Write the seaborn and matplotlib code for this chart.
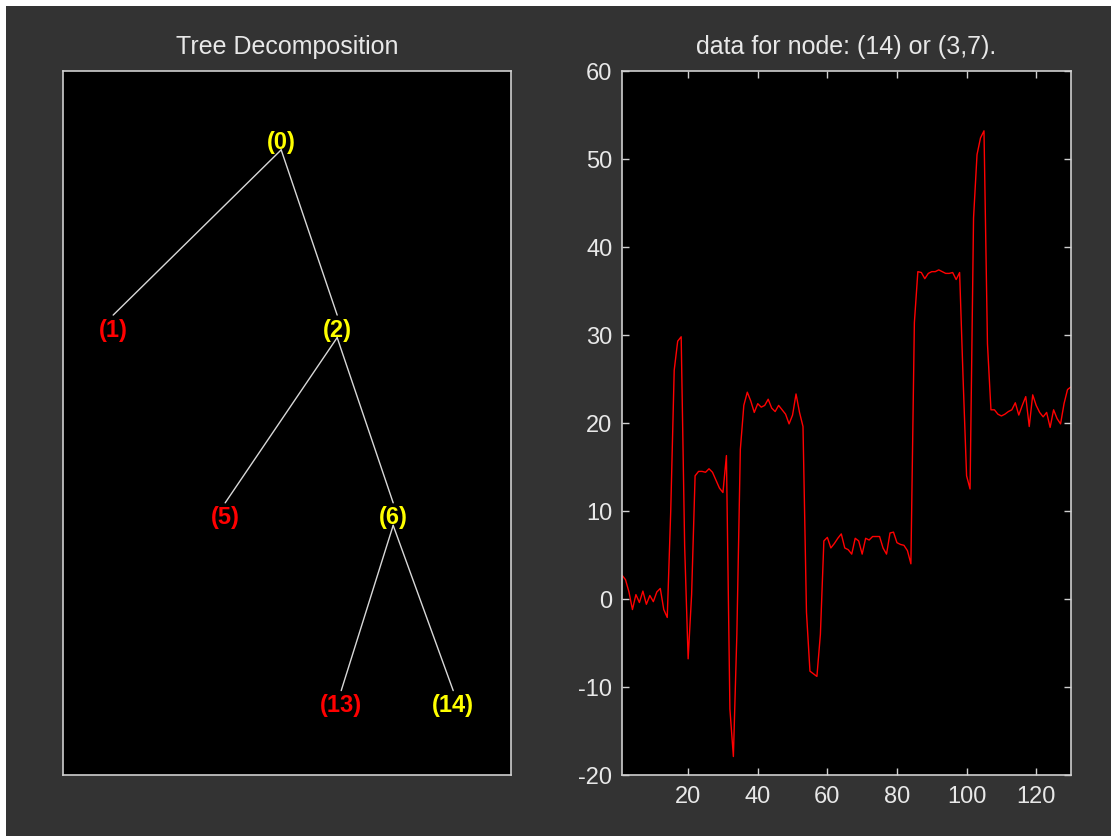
import numpy as np
import pandas as pd
import matplotlib
matplotlib.use("Agg")
import matplotlib.pyplot as plt
from matplotlib.patches import Rectangle
import seaborn as sns

# tree nodes: label, horizontal position, depth, colour
node_labels = ["(0)", "(1)", "(2)", "(5)", "(6)", "(13)", "(14)"]
node_x = [0.487, 0.112, 0.612, 0.362, 0.737, 0.621, 0.871]
node_depth = [0, 1, 1, 2, 2, 3, 3]
node_colors = ["yellow", "red", "yellow", "red", "yellow", "red", "yellow"]
edges = [(0, 1), (0, 2), (2, 3), (2, 4), (4, 5), (4, 6)]

# coefficients of node (14) = (3,7)
signal = [2.7, 2.2, 0.8, -1.2, 0.5, -0.4, 0.9, -0.6, 0.4, -0.3,
          0.8, 1.2, -1.2, -2.1, 10.0, 26.0, 29.3, 29.8, 6.0, -6.8,
          0.5, 14.0, 14.5, 14.5, 14.4, 14.8, 14.4, 13.5, 12.6, 12.1,
          16.3, -12.5, -17.9, -4.0, 17.0, 22.0, 23.5, 22.5, 21.2, 22.2,
          21.8, 22.0, 22.7, 21.7, 21.3, 22.0, 21.5, 21.0, 19.9, 20.9,
          23.3, 21.2, 19.6, -1.5, -8.2, -8.5, -8.8, -4.0, 6.6, 7.0,
          5.8, 6.3, 6.9, 7.4, 5.8, 5.6, 5.1, 6.9, 6.6, 5.1,
          6.9, 6.7, 7.1, 7.1, 7.1, 5.8, 5.1, 7.5, 7.6, 6.4,
          6.2, 6.1, 5.5, 4.0, 31.4, 37.2, 37.1, 36.4, 37.0, 37.2,
          37.2, 37.4, 37.2, 37.0, 37.0, 37.1, 36.3, 37.1, 25.0, 14.0,
          12.5, 43.3, 50.5, 52.4, 53.2, 29.0, 21.5, 21.5, 21.0, 20.8,
          21.0, 21.3, 21.5, 22.3, 20.9, 22.0, 23.0, 19.6, 23.2, 22.0,
          21.2, 20.7, 21.2, 19.5, 21.5, 20.5, 19.9, 22.2, 23.8, 24.1]
x_ticks = [20, 40, 60, 80, 100, 120]
y_ticks = [-20, -10, 0, 10, 20, 30, 40, 50, 60]

bg = "#333333"
fg = "#e8e8e8"
frame = "#cfcfcf"

sns.set_style("dark")
plt.rcParams["font.family"] = ["Liberation Sans", "DejaVu Sans"]
plt.rcParams["axes.unicode_minus"] = False

fig = plt.figure(figsize=(11.11, 8.37), dpi=100, facecolor="white")
# grey window area (white strip left and top as in the screenshot)
fig.patches.append(Rectangle((6 / 1111, 0), 1, 1 - 7 / 837, transform=fig.transFigure,
                             facecolor=bg, edgecolor="none", zorder=-10))

ax1 = fig.add_axes([63 / 1111, 61 / 837, 448 / 1111, 704 / 837])
ax2 = fig.add_axes([622 / 1111, 61 / 837, 449 / 1111, 704 / 837])

for ax in (ax1, ax2):
    ax.set_facecolor("black")
    for s in ax.spines.values():
        s.set_visible(True)
        s.set_color(frame)
        s.set_linewidth(1.2)
    ax.grid(False)

# ---- tree ----
level_y = [0.9 - d * 0.2667 for d in node_depth]
for p, c in edges:
    ax1.plot([node_x[p], node_x[c]], [level_y[p] - 0.012, level_y[c] + 0.02],
             color="#d8d8d8", lw=1.0, zorder=1)
for lab, x, y, col in zip(node_labels, node_x, level_y, node_colors):
    ax1.text(x, y, lab, color=col, fontsize=17, fontweight="bold",
             ha="center", va="center", zorder=2)
ax1.set_xlim(0, 1)
ax1.set_ylim(0, 1)
ax1.set_xticks([])
ax1.set_yticks([])
ax1.set_title("Tree Decomposition", color=fg, fontsize=18, pad=13)

# ---- signal ----
df = pd.DataFrame({"x": np.arange(1, len(signal) + 1), "y": signal})
sns.lineplot(data=df, x="x", y="y", ax=ax2, color="red", lw=1.0)
ax2.set_xlim(1, 130)
ax2.set_ylim(-20, 60)
ax2.set_xticks(x_ticks)
ax2.set_yticks(y_ticks)
ax2.tick_params(direction="in", length=5, width=1, color=frame, labelcolor=fg,
                labelsize=17, top=True, right=True, bottom=True, left=True, pad=7)
ax2.set_xlabel("")
ax2.set_ylabel("")
ax2.set_title("data for node: (14) or (3,7).", color=fg, fontsize=18, pad=13)

fig.savefig("out.png", dpi=100, facecolor=fig.get_facecolor())
